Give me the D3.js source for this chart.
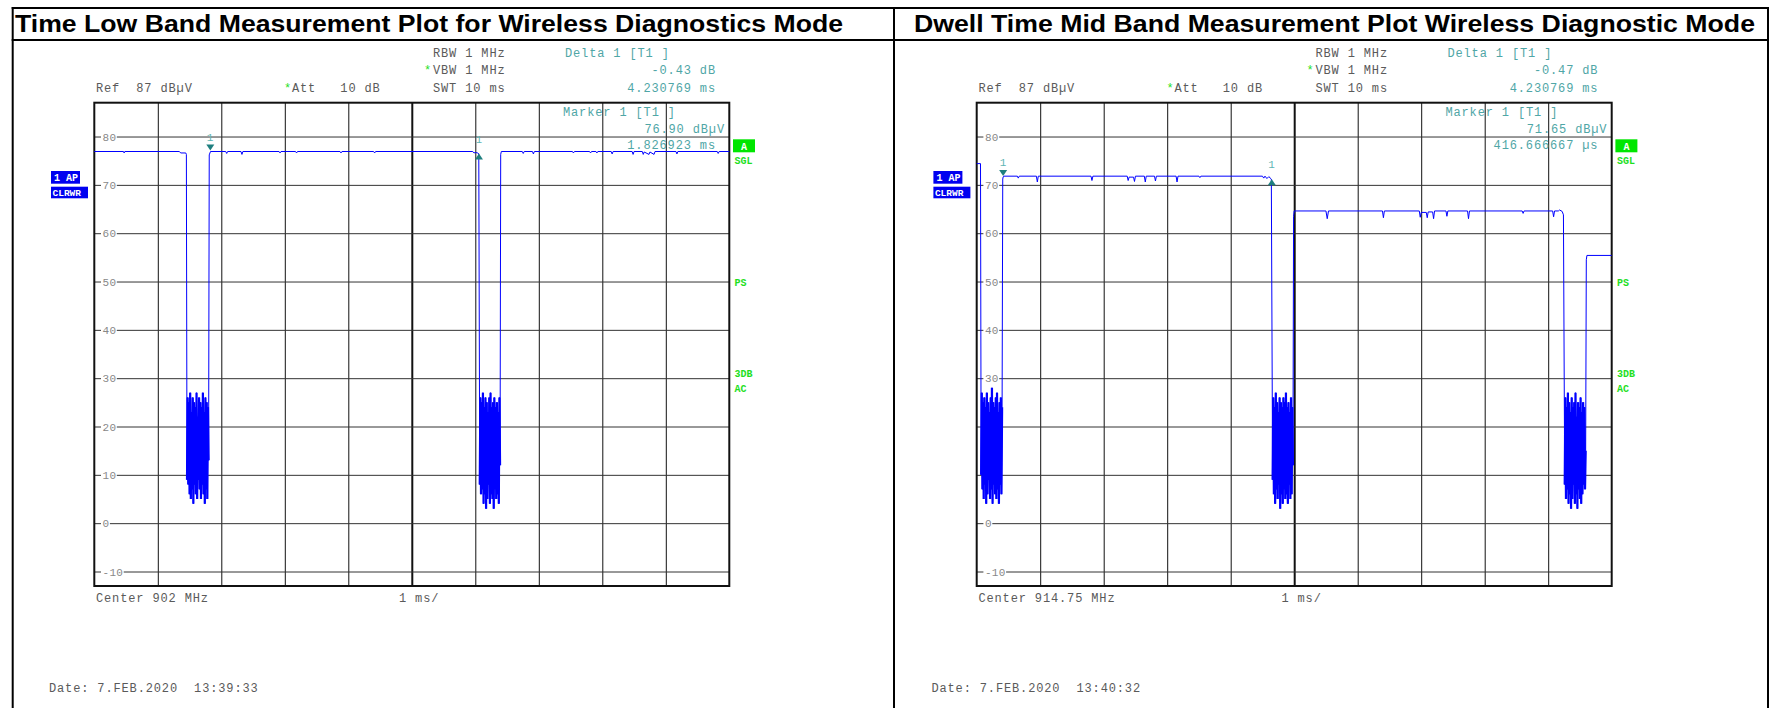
<!DOCTYPE html>
<html>
<head>
<meta charset="utf-8">
<script src="https://cdn.jsdelivr.net/npm/d3@7"></script>
<style>
body { margin: 0; background: #fff; }
text { white-space: pre; }
</style>
</head>
<body>
<div id="chart"></div>
<script>

// grid ticks
var timeGrid = [1, 2, 3, 4, 5, 6, 7, 8, 9];
var levelTicks = [80, 70, 60, 50, 40, 30, 20, 10, 0, -10];

// low band trace, [ms, dBuV]
var lowTrace = [
  [0, 76.9], [0.46, 76.9], [0.47, 76.6], [0.48, 76.9],
  [1.34, 76.9], [1.36, 76.6], [1.44, 76.6], [1.45, 76.3],
  [1.81, 76.2], [1.83, 76.9],
  [2.07, 76.9], [2.085, 76.5], [2.10, 76.9],
  [2.31, 76.9], [2.325, 76.3], [2.34, 76.9],
  [2.91, 76.9], [2.925, 76.6], [2.94, 76.9],
  [3.17, 76.9], [3.185, 76.6], [3.20, 76.9],
  [3.87, 76.9], [3.885, 76.6], [3.90, 76.9],
  [4.40, 76.9], [4.415, 76.6], [4.43, 76.9],
  [5.96, 76.9], [5.98, 76.6], [6.00, 76.7], [6.04, 76.6], [6.055, 76.4],
  [6.40, 76.3], [6.41, 76.9],
  [6.74, 76.9], [6.755, 76.5], [6.77, 76.9],
  [6.90, 76.9], [6.915, 76.4], [6.93, 76.9],
  [7.53, 76.9], [7.545, 76.6], [7.56, 76.9],
  [7.80, 76.9], [7.815, 76.6], [7.83, 76.9],
  [7.90, 76.9], [7.915, 76.6], [7.93, 76.9],
  [8.14, 76.9], [8.155, 76.4], [8.17, 76.9],
  [8.47, 76.9], [8.485, 76.3], [8.50, 76.9],
  [8.63, 76.9], [8.645, 76.3], [8.66, 76.8], [8.735, 76.3], [8.75, 76.8], [8.815, 76.3], [8.83, 76.9],
  [9.16, 76.9], [9.175, 76.4], [9.19, 76.9],
  [9.81, 76.9], [9.825, 76.5], [9.84, 76.9],
  [10, 76.9]
];
// noise while the hop is off band, one value per 0.01 ms sweep point
var lowBurstA = { start: 1.46, values: [9,26,8,25,6,27,5,23,7,26,4,25,8,24,6,27,5,22,9,26,7,25,5,24,8,27,6,23,4,26,7,25,5,24,13] };
var lowBurstB = { start: 6.07, values: [8,26,6,25,7,27,4,24,6,26,3,25,5,23,8,26,4,27,6,24,5,25,3,26,7,24,5,25,6,23,4,26,12] };

// mid band trace
var midTrace = [
  [0, 74.4], [0.06, 74.4],
  [0.41, 71.2], [0.4167, 71.65], [0.43, 71.8],
  [0.64, 71.8], [0.655, 71.4], [0.67, 71.8],
  [0.94, 71.8], [0.955, 70.6], [0.97, 71.8],
  [1.80, 71.8], [1.815, 70.9], [1.83, 71.8],
  [2.37, 71.8], [2.385, 70.9], [2.40, 71.6], [2.47, 71.6], [2.485, 70.7], [2.50, 71.8],
  [2.64, 71.8], [2.655, 70.6], [2.67, 71.8],
  [2.80, 71.8], [2.815, 70.8], [2.83, 71.8],
  [3.14, 71.8], [3.155, 70.6], [3.17, 71.8],
  [3.50, 71.8], [3.515, 71.5], [3.53, 71.8],
  [4.50, 71.8], [4.52, 71.4], [4.54, 71.8], [4.57, 71.3], [4.60, 71.7], [4.64, 71.2],
  [4.99, 63.5], [5.00, 64.6],
  [5.50, 64.6], [5.52, 63.0], [5.54, 64.6],
  [6.39, 64.6], [6.405, 63.2], [6.42, 64.6],
  [6.97, 64.6], [6.985, 63.3], [7.00, 64.3], [7.08, 64.3], [7.095, 63.2], [7.11, 64.4], [7.18, 64.4], [7.195, 63.0], [7.21, 64.6],
  [7.39, 64.6], [7.405, 63.5], [7.42, 64.6],
  [7.73, 64.6], [7.745, 63.0], [7.76, 64.6],
  [8.59, 64.6], [8.605, 64.1], [8.62, 64.6],
  [9.07, 64.6], [9.085, 63.4], [9.10, 64.6],
  [9.16, 64.6], [9.18, 64.8], [9.22, 64.5], [9.24, 63.8],
  [9.60, 54.5], [9.61, 55.4], [10, 55.4]
];
var midBurstA = { start: 0.07, values: [10,27,7,25,5,26,8,24,4,27,6,25,9,23,5,26,7,28,4,25,8,24,6,26,5,27,7,23,4,25,8,26,6,24] };
var midBurstB = { start: 4.66, values: [9,26,6,24,4,27,7,25,5,23,8,26,3,25,6,24,4,26,7,25,5,27,6,24,4,25,8,23,5,26,6,24,12] };
var midBurstC = { start: 9.26, values: [8,26,5,24,7,27,4,25,6,23,3,26,5,24,8,25,4,27,6,22,3,25,7,24,5,26,4,23,6,25,8,24,7,15] };

// markers [ms, dBuV]
var lowMarker = [1.826923, 76.90];
var lowDelta = [6.057692, 76.47];
var midMarker = [0.416667, 71.65];
var midDelta = [4.647436, 71.18];

var titles = ["Time Low Band Measurement Plot for Wireless Diagnostics Mode",
              "Dwell Time Mid Band Measurement Plot Wireless Diagnostic Mode"];
var deltaDb = ["-0.43 dB", "-0.47 dB"];
var deltaTime = ["4.230769 ms", "4.230769 ms"];
var markerLevel = ["76.90 dBµV", "71.65 dBµV"];
var markerTime = ["1.826923 ms", "416.666667 µs"];
var centers = ["Center 902 MHz", "Center 914.75 MHz"];
var dates = ["Date: 7.FEB.2020  13:39:33", "Date: 7.FEB.2020  13:40:32"];

var mono = "'Liberation Mono','DejaVu Sans Mono',monospace";
var gray = "#5a5a5a", teal = "#4fa6a6", green = "#1fe01f", trace = "#0000ff";

var W = 1781, H = 708;
var svg = d3.select("#chart").append("svg")
  .attr("width", W).attr("height", H);
svg.append("rect").attr("width", W).attr("height", H).attr("fill", "#fff");

var x = d3.scaleLinear().domain([0, 10]).range([94.3, 729.3]);
var y = d3.scaleLinear().domain([-13, 87]).range([586, 102.7]);

function burstPoints(b) {
  return b.values.map(function(v, i) { return [b.start + i * 0.01, v]; });
}
function withBursts(base, bursts) {
  var pts = base.slice();
  bursts.forEach(function(b) { pts = pts.concat(burstPoints(b)); });
  return pts.sort(function(a, b) { return a[0] - b[0]; });
}

var panels = [
  { dx: 0, points: withBursts(lowTrace, [lowBurstA, lowBurstB]), bursts: [lowBurstA, lowBurstB], marker: lowMarker, delta: lowDelta, titleW: 828, titleX: 15 },
  { dx: 882.4, points: withBursts(midTrace, [midBurstA, midBurstB, midBurstC]), bursts: [midBurstA, midBurstB, midBurstC], marker: midMarker, delta: midDelta, titleW: 841, titleX: 914 - 882.4 }
];

function txt(g, px, py, s, fill, anchor, size) {
  return g.append("text")
    .attr("x", px).attr("y", py)
    .attr("font-family", mono)
    .attr("font-size", size || 12)
    .attr("letter-spacing", size ? 0.3 : 0.86)
    .attr("text-anchor", anchor || "start")
    .attr("fill", fill)
    .text(s);
}

// outer frame
var frame = svg.append("g").attr("stroke", "#000").attr("stroke-width", 2);
frame.append("line").attr("x1", 11.7).attr("x2", 1769).attr("y1", 8).attr("y2", 8);
frame.append("line").attr("x1", 11.7).attr("x2", 1769).attr("y1", 40).attr("y2", 40);
[12.7, 894, 1768].forEach(function(lx) {
  frame.append("line").attr("x1", lx).attr("x2", lx).attr("y1", 7).attr("y2", H);
});

var line = d3.line()
  .x(function(d) { return x(d[0]); })
  .y(function(d) { return y(d[1]); });

panels.forEach(function(p, k) {
  var g = svg.append("g").attr("transform", "translate(" + p.dx + ",0)");

  g.append("text")
    .attr("x", p.titleX).attr("y", 32)
    .attr("font-family", "'Liberation Sans',Arial,sans-serif")
    .attr("font-weight", "bold").attr("font-size", 23.5)
    .attr("textLength", p.titleW).attr("lengthAdjust", "spacingAndGlyphs")
    .text(titles[k]);

  // header
  txt(g, 433, 57, "RBW 1 MHz", gray);
  txt(g, 565, 57, "Delta 1 [T1 ]", teal);
  txt(g, 424, 74, "*", green);
  txt(g, 433, 74, "VBW 1 MHz", gray);
  txt(g, 716, 74, deltaDb[k], teal, "end");
  txt(g, 96, 92, "Ref  87 dBµV", gray);
  txt(g, 284, 92, "*", green);
  txt(g, 292, 92, "Att   10 dB", gray);
  txt(g, 433, 92, "SWT 10 ms", gray);
  txt(g, 716, 92, deltaTime[k], teal, "end");

  // grid
  var plotW = x(10) - x(0), plotH = y(-13) - y(87);
  var gx = g.append("g").attr("transform", "translate(0," + y(-13) + ")")
    .call(d3.axisBottom(x).tickValues(timeGrid).tickSize(-plotH).tickFormat(""));
  gx.select(".domain").remove();
  gx.selectAll(".tick line").attr("stroke", "#111")
    .attr("stroke-width", function(d) { return d === 5 ? 2 : 1; });

  var gy = g.append("g").attr("transform", "translate(" + x(0) + ",0)")
    .call(d3.axisRight(y).tickValues(levelTicks).tickSize(plotW).tickFormat(""));
  gy.select(".domain").remove();
  gy.selectAll(".tick line").attr("stroke", "#333");

  levelTicks.forEach(function(v) {
    var s = String(v);
    g.append("rect").attr("x", 101).attr("y", y(v) - 5)
      .attr("width", s.length * 6.9 + 2).attr("height", 10).attr("fill", "#fff");
    txt(g, 102.5, y(v) + 4, s, "#888", "start", 11);
  });

  g.append("rect")
    .attr("x", x(0)).attr("y", y(87))
    .attr("width", plotW).attr("height", plotH)
    .attr("fill", "none").attr("stroke", "#111").attr("stroke-width", 2);

  // marker readout
  txt(g, 563, 116, "Marker 1 [T1 ]", teal);
  txt(g, 725, 132.5, markerLevel[k], teal, "end");
  txt(g, 716, 149, markerTime[k], teal, "end");

  // trace
  g.append("path")
    .datum(p.points)
    .attr("fill", "none")
    .attr("stroke", trace)
    .attr("stroke-width", 1)
    .attr("d", line);

  // noise bursts drawn heavier so they read as a solid block
  p.bursts.forEach(function(b) {
    g.append("path")
      .datum(burstPoints(b))
      .attr("fill", "none")
      .attr("stroke", trace)
      .attr("stroke-width", 2.2)
      .attr("stroke-linejoin", "bevel")
      .attr("d", line);
  });

  // marker 1 (down) and delta 1 (up)
  var mx = x(p.marker[0]), my = y(p.marker[1]);
  g.append("path").attr("d", "M" + (mx - 4) + "," + (my - 7) + "L" + (mx + 4) + "," + (my - 7) + "L" + mx + "," + (my - 1) + "Z")
    .attr("fill", "#1f7f7f");
  txt(g, mx, my - 11, "1", "#5fb5b5", "middle", 11);
  var dxm = x(p.delta[0]), dym = y(p.delta[1]);
  g.append("path").attr("d", "M" + (dxm - 4) + "," + (dym + 6) + "L" + (dxm + 4) + "," + (dym + 6) + "L" + dxm + "," + dym + "Z")
    .attr("fill", "#1f7f7f");
  txt(g, dxm, dym - 11, "1", "#5fb5b5", "middle", 11);

  // side labels
  g.append("rect").attr("x", 51).attr("y", 171).attr("width", 29).attr("height", 12.7).attr("fill", "#0000f0");
  g.append("text").attr("x", 54).attr("y", 181).attr("font-family", mono).attr("font-size", 10)
    .attr("font-weight", "bold").attr("fill", "#fff").text("1 AP");
  g.append("rect").attr("x", 51).attr("y", 186.7).attr("width", 37).attr("height", 11.6).attr("fill", "#0000f0");
  g.append("text").attr("x", 52.5).attr("y", 196).attr("font-family", mono).attr("font-size", 9.5)
    .attr("font-weight", "bold").attr("fill", "#fff").text("CLRWR");

  g.append("rect").attr("x", 733).attr("y", 139.3).attr("width", 22).attr("height", 13).attr("fill", "#00e600");
  g.append("text").attr("x", 744).attr("y", 149.5).attr("text-anchor", "middle").attr("font-family", mono)
    .attr("font-size", 10).attr("font-weight", "bold").attr("fill", "#fff").text("A");
  [["SGL", 164], ["PS", 286], ["3DB", 377], ["AC", 392]].forEach(function(s) {
    g.append("text").attr("x", 734.5).attr("y", s[1]).attr("font-family", mono)
      .attr("font-size", 10).attr("font-weight", "bold").attr("fill", green).text(s[0]);
  });

  // footer
  txt(g, 96, 602, centers[k], gray);
  txt(g, 399, 602, "1 ms/", gray);
  txt(g, 49, 691.5, dates[k], gray);
});

</script>
</body>
</html>
